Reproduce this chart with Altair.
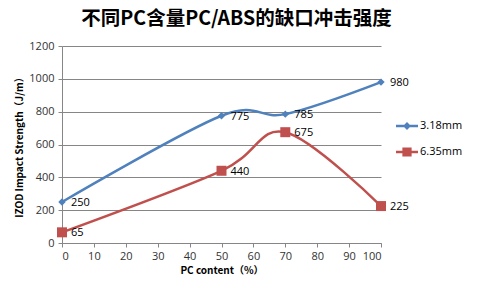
import altair as alt
import pandas as pd

pc_content = [0, 50, 70, 100]
thin_values = [250, 775, 785, 980]     # 3.18mm
thick_values = [65, 440, 675, 225]     # 6.35mm
series_names = ["3.18mm", "6.35mm"]
colors = ["#4F81BD", "#C0504D"]
x_ticks = [0, 10, 20, 30, 40, 50, 60, 70, 80, 90, 100]
y_ticks = [0, 200, 400, 600, 800, 1000, 1200]

rows = []
for s, vals in zip(series_names, [thin_values, thick_values]):
    for x, v in zip(pc_content, vals):
        rows.append({"pc": x, "val": v, "series": s})
df = pd.DataFrame(rows)

font = "Noto Sans CJK SC"
color_scale = alt.Scale(domain=series_names, range=colors)
x_enc = alt.X("pc:Q", scale=alt.Scale(domain=[0, 100], nice=False),
              axis=alt.Axis(values=x_ticks, title="PC content（%）", grid=False,
                            tickSize=4, labelPadding=3, titlePadding=4,
                            labelOverlap=False, format="d"))
y_enc = alt.Y("val:Q", scale=alt.Scale(domain=[0, 1200], nice=False),
              axis=alt.Axis(values=y_ticks, title="IZOD Impact Strength（J/m）",
                            grid=True, tickSize=4, labelPadding=4, titlePadding=4,
                            labelOverlap=False, format="d"))

base = alt.Chart(df)

lines = base.mark_line(interpolate="cardinal", tension=0, strokeWidth=2.5).encode(
    x=x_enc, y=y_enc,
    color=alt.Color("series:N", scale=color_scale, legend=None),
    detail="series:N",
)

points = base.mark_point(filled=True, opacity=1).encode(
    x=x_enc, y=y_enc,
    color=alt.Color("series:N", scale=color_scale, legend=None),
    shape=alt.Shape("series:N", scale=alt.Scale(domain=series_names, range=["diamond", "square"]), legend=None),
    size=alt.Size("series:N", scale=alt.Scale(domain=series_names, range=[55, 100]), legend=None),
)

labels = base.mark_text(align="left", baseline="middle", dx=9, dy=1,
                        font="Open Sans", fontSize=11, color="#000000").encode(
    x=x_enc, y=y_enc, text="val:Q"
)

legend_shapes = [
    "M-1,-0.11L1,-0.11L1,0.11L-1,0.11Z M0,-0.36L0.36,0L0,0.36L-0.36,0Z",
    "M-1,-0.11L1,-0.11L1,0.11L-1,0.11Z M-0.42,-0.42L0.42,-0.42L0.42,0.42L-0.42,0.42Z",
]
legend_tops = [69, 95]


def legend_layer(i):
    name = series_names[i]
    leg = alt.Legend(title=None, orient="none", legendX=334, legendY=legend_tops[i],
                     symbolType=legend_shapes[i], symbolSize=484, symbolOpacity=1,
                     symbolStrokeWidth=0, labelFontSize=11, labelFont="Open Sans",
                     labelColor="#000000", labelOffset=2)
    return base.transform_filter(alt.datum.pc < 0).mark_point(filled=True).encode(
        x=x_enc, y=y_enc,
        fill=alt.Fill("series:N", scale=alt.Scale(domain=[name], range=[colors[i]]), legend=leg),
    )


chart = alt.layer(lines, points, labels, legend_layer(0), legend_layer(1)).resolve_scale(
    shape="independent", size="independent", fill="independent"
).resolve_legend(fill="independent").properties(
    width=319, height=197,
    title=alt.TitleParams("不同PC含量PC/ABS的缺口冲击强度", font=font, fontSize=19.5,
                          fontWeight="bold", color="#000000", anchor="middle",
                          dx=15, offset=11),
    autosize=alt.AutoSizeParams(type="none"),
    padding={"left": 62, "top": 46, "right": 101, "bottom": 45},
).configure_view(stroke=None).configure_axis(
    labelFont="Open Sans", labelFontSize=11, labelColor="#333333",
    titleFont=font, titleFontSize=10, titleFontWeight="bold", titleColor="#000000",
    domainColor="#868686", tickColor="#868686", gridColor="#868686",
    gridWidth=1, domainWidth=1,
).configure_axisY(domain=True)

chart.save("out.html", embed_options={"renderer": "svg", "actions": False})
